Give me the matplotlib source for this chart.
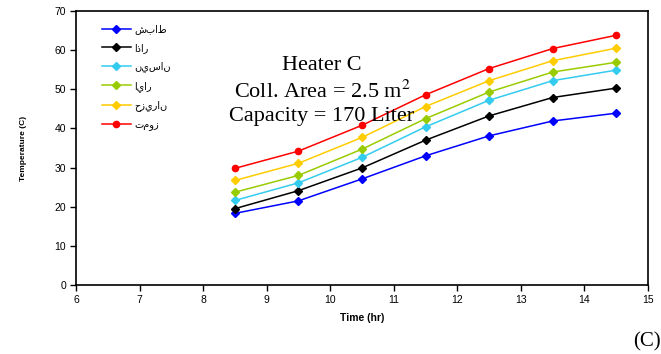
import matplotlib.pyplot as plt

time_hr = [8.5, 9.5, 10.5, 11.5, 12.5, 13.5, 14.5]
months = ["شباط", "اذار", "نيسان", "ايار", "حزيران", "تموز"]
feb = [18.3, 21.5, 27.1, 33.0, 38.1, 41.9, 43.9]
mar = [19.5, 24.1, 29.9, 37.0, 43.2, 47.9, 50.3]
apr = [21.6, 26.1, 32.6, 40.4, 47.2, 52.2, 54.9]
may = [23.7, 28.0, 34.7, 42.5, 49.3, 54.4, 56.9]
jun = [26.7, 31.1, 37.7, 45.6, 52.2, 57.3, 60.5]
jul = [29.8, 34.2, 40.8, 48.6, 55.3, 60.4, 63.8]
colors = ["#0000FF", "#000000", "#33CCEE", "#99CC00", "#FFCC00", "#FF0000"]
markers = ["D", "D", "D", "D", "D", "o"]


def create_temperature_plot(axes):
    series = [feb, mar, apr, may, jun, jul]
    for name, values, color, marker in zip(months, series, colors, markers):
        axes.plot(time_hr, values, color=color, marker=marker, lw=1.1,
                  ms=4.5 if marker == "o" else 3.8, label=name)
    axes.set_xlim(6, 15)
    axes.set_ylim(0, 70)
    axes.set_xticks(range(6, 16))
    axes.set_yticks(range(0, 71, 10))
    axes.tick_params(direction="out", length=4, width=1, labelsize=7.5, pad=3)
    for spine in axes.spines.values():
        spine.set_linewidth(1.2)
    axes.set_xlabel("Time (hr)", fontsize=7.5, fontweight="bold", labelpad=6)
    axes.set_ylabel("Temperature (C)", fontsize=6, fontweight="bold", labelpad=20)
    axes.legend(loc="upper left", bbox_to_anchor=(0.03, 0.984), frameon=False,
                prop={"family": "DejaVu Sans", "size": 7},
                handlelength=3.0, labelspacing=0.88, handletextpad=0.3)
    axes.text(0.43, 0.708, "Heater C\nColl. Area = 2.5 m$^2$\nCapacity = 170 Liter",
              transform=axes.transAxes, ha="center", va="center",
              family="Liberation Serif", fontsize=16, linespacing=1.3,
              math_fontfamily="stix")


if __name__ == '__main__':
    plt.rcParams['font.family'] = ['Liberation Sans', 'DejaVu Sans']
    fig = plt.figure(figsize=(6.61, 3.54), dpi=100)
    ax = fig.add_axes([76 / 661, 1 - 285 / 354, (648 - 76) / 661, (285 - 11) / 354])
    create_temperature_plot(ax)
    fig.text(1.0, 0.04, "(C)", ha="right", va="center_baseline",
             family="Liberation Serif", fontsize=15)
    fig.savefig("out.png", dpi=100)
